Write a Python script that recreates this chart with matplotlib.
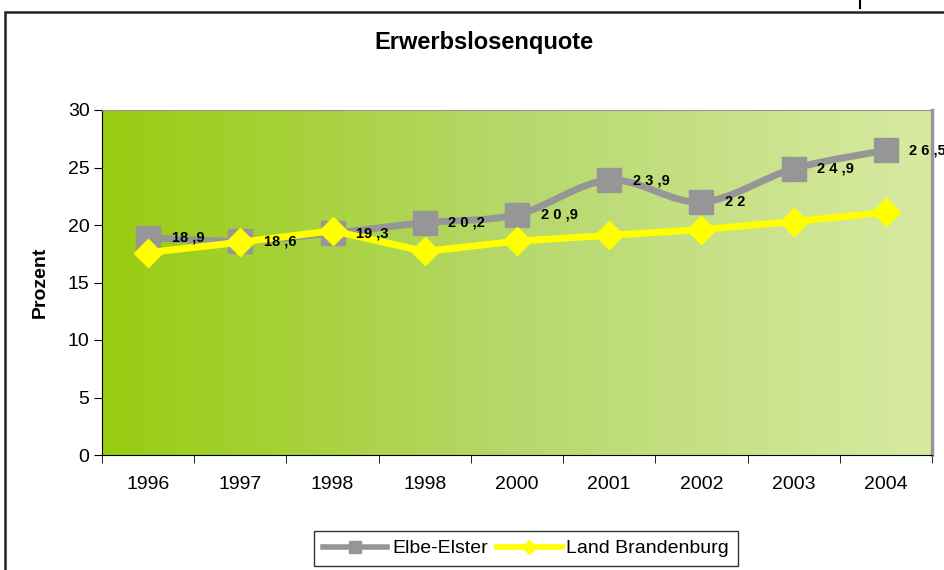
import numpy as np
import matplotlib
matplotlib.use("Agg")
import matplotlib.pyplot as plt
from matplotlib.path import Path
from matplotlib.patches import PathPatch, Rectangle
from matplotlib.lines import Line2D

plt.rcParams['font.family'] = ['Liberation Sans', 'DejaVu Sans']

years = ['1996', '1997', '1998', '1998', '2000', '2001', '2002', '2003', '2004']
elbe_elster = [18.9, 18.6, 19.3, 20.2, 20.9, 23.9, 22.0, 24.9, 26.5]
brandenburg = [17.6, 18.5, 19.5, 17.7, 18.6, 19.1, 19.6, 20.3, 21.1]

GRAY = '#969696'
YELLOW = '#ffff00'


def smooth_path(x, y, t=1/6):
    # catmull-rom style bezier through the points (Excel "smoothed line")
    verts = [(x[0], y[0])]
    codes = [Path.MOVETO]
    n = len(x)
    for i in range(n - 1):
        x0, y0 = (x[i-1], y[i-1]) if i > 0 else (x[i], y[i])
        x3, y3 = (x[i+2], y[i+2]) if i + 2 < n else (x[i+1], y[i+1])
        c1 = (x[i] + (x[i+1] - x0) * t, y[i] + (y[i+1] - y0) * t)
        c2 = (x[i+1] - (x3 - x[i]) * t, y[i+1] - (y3 - y[i]) * t)
        verts += [c1, c2, (x[i+1], y[i+1])]
        codes += [Path.CURVE4] * 3
    return Path(verts, codes)


def label(v):
    s = f"{v:g}"
    whole, _, frac = s.partition('.')
    out = ' '.join(whole) if v >= 20 else whole
    return out + (' ,' + frac if frac else '')


fig = plt.figure(figsize=(9.45, 5.7), dpi=100)
ax = fig.add_axes([102/945, 1 - 455/570, 830/945, 345/570])

x = np.arange(len(years))
ax.set_xlim(-0.5, len(years) - 0.5)
ax.set_ylim(0, 30)

# gradient background
grad = np.linspace(0, 1, 256)[None, :]
cmap = matplotlib.colors.LinearSegmentedColormap.from_list(
    'bg', ['#99cc10', '#b6d86c', '#d8eaa2'])
ax.imshow(grad, cmap=cmap, aspect='auto', extent=(-0.5, len(years) - 0.5, 0, 30),
          zorder=0)

# Elbe-Elster (smoothed)
ax.add_patch(PathPatch(smooth_path(x, elbe_elster), fill=False, edgecolor=GRAY,
                       lw=5, zorder=2, capstyle='round', joinstyle='round'))
ax.plot(x, elbe_elster, ls='none', marker='s', ms=17.5, color=GRAY, zorder=3)

# Land Brandenburg
ax.plot(x, brandenburg, color=YELLOW, lw=5, marker='D', ms=14, zorder=4,
        solid_joinstyle='round')

for xi, v in zip(x, elbe_elster):
    ax.annotate(label(v), (xi, v), xytext=(17, 0), textcoords='offset points',
                ha='left', va='center', fontsize=10.5, fontweight='bold',
                annotation_clip=False, zorder=5)

ax.set_xticks(x)
ax.set_xticklabels(years, fontsize=14)
ax.set_xticks(np.arange(-0.5, len(years)), minor=True)
ax.tick_params(axis='x', which='major', length=0, pad=15)
ax.tick_params(axis='x', which='minor', length=6, direction='out', color='black')
ax.set_yticks(range(0, 31, 5))
ax.tick_params(axis='y', labelsize=14, length=6, direction='out', pad=3)

ax.spines['left'].set_color('black')
ax.spines['bottom'].set_color('black')
ax.spines['top'].set_color(GRAY)
ax.spines['right'].set_color(GRAY)
ax.spines['right'].set_linewidth(2.5)
for s in ax.spines.values():
    s.set_zorder(6)

ax.set_ylabel('Prozent', fontsize=14, fontweight='bold', labelpad=14)
fig.text(484/945, 1 - 43/570, 'Erwerbslosenquote', ha='center', va='center',
         fontsize=17, fontweight='bold')

# outer chart frame
fig.patches.append(Rectangle((5/945, -0.1), 1.2, 1.1 - 12/570,
                             transform=fig.transFigure, fill=False,
                             edgecolor='#222222', lw=1.8))
fig.lines.append(Line2D([860/945, 860/945], [1, 1 - 8/570],
                        transform=fig.transFigure, color='black', lw=1.5))

handles = [
    Line2D([], [], color=GRAY, lw=4, marker='s', ms=8),
    Line2D([], [], color=YELLOW, lw=4, marker='D', ms=7),
]
leg = fig.legend(handles, ['Elbe-Elster', 'Land Brandenburg'],
                 loc='upper center', bbox_to_anchor=(526/945, 1 - 531/570),
                 ncol=2, frameon=True, fancybox=False, fontsize=14,
                 handlelength=3.3, handletextpad=0.25, columnspacing=0.5,
                 borderpad=0.45, borderaxespad=0)
leg.get_frame().set_edgecolor('black')
leg.get_frame().set_linewidth(1)

fig.savefig('out.png', dpi=100)
